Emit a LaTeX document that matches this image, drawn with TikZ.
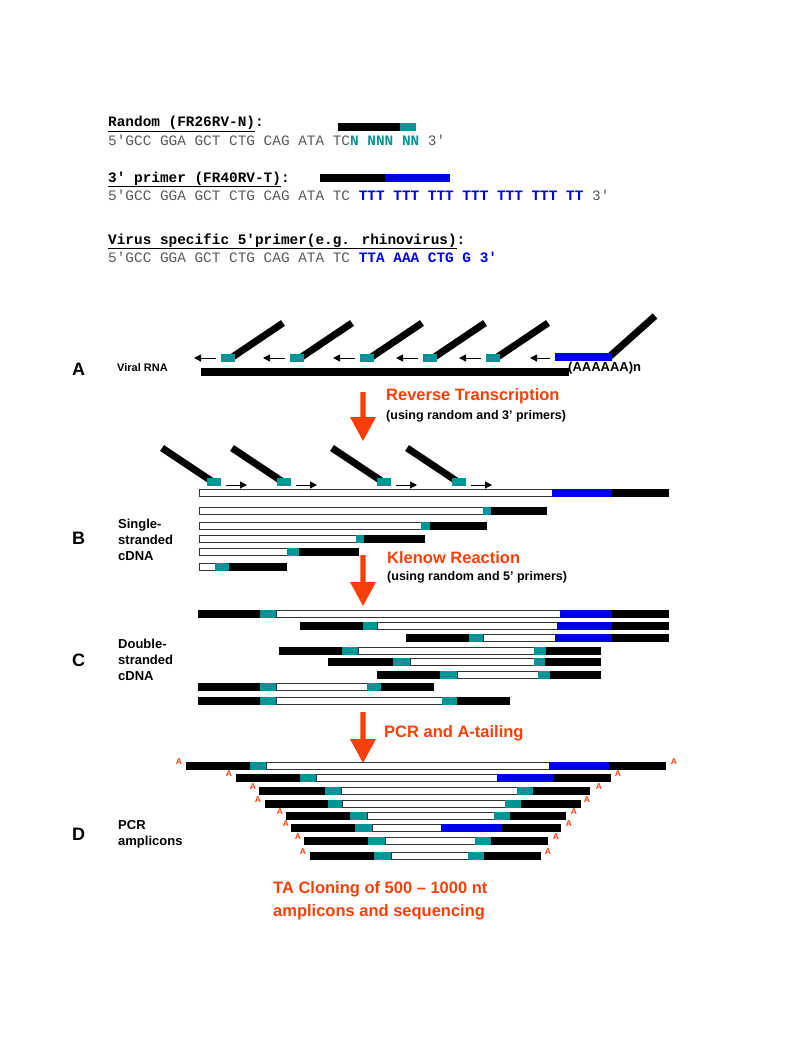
\documentclass[tikz,border=0pt]{standalone}
\usepackage{fontspec}
\setmainfont{Liberation Sans}
\newfontfamily\cour{Liberation Mono}
\usetikzlibrary{arrows.meta}
\definecolor{tl}{RGB}{0,150,150}
\definecolor{bl}{RGB}{0,0,230}
\definecolor{rd}{RGB}{250,64,10}
\definecolor{gy}{RGB}{90,90,90}
\newcommand\sgm[4]{\fill[#4] (#1,#3-3.8) rectangle (#2,#3+3.8);}
\newcommand\wsg[3]{\filldraw[fill=white,draw=black!80,line width=0.8] (#1,#3-3.4) rectangle (#2,#3+3.4);}
\newcommand\redarr[3]{\fill[rd] (#1-2.6,#2) -- (#1+2.6,#2) -- (#1+2.6,#3-24) -- (#1+13,#3-24) -- (#1,#3) -- (#1-13,#3-24) -- (#1-2.6,#3-24) -- cycle;}
\tikzset{
 mono/.style={font=\cour\fontsize{14.4}{16}\selectfont, anchor=base west, inner sep=0},
 monob/.style={mono, font=\cour\bfseries\fontsize{14.4}{16}\selectfont},
 lab/.style={font=\bfseries\fontsize{18}{20}\selectfont, anchor=west, inner sep=0},
 sub/.style={font=\bfseries\fontsize{13}{16}\selectfont, anchor=west, align=left, inner sep=0},
 step1/.style={font=\bfseries\fontsize{16.5}{18}\selectfont, text=rd, anchor=west, inner sep=0},
 step2/.style={font=\bfseries\fontsize{12.5}{14}\selectfont, anchor=west, inner sep=0},
 aa/.style={font=\bfseries\fontsize{8.5}{9}\selectfont, text=rd, inner sep=0},
 prim/.style={line width=7},
 sarr/.style={line width=1, -{Triangle[length=7,width=7]}},
}
\begin{document}
\begin{tikzpicture}[x=1pt,y=-1pt]
\useasboundingbox[fill=white] (0,0) rectangle (785,1046);
% top sequences
\node[monob] (t1) at (108,127) {\underline{Random (FR26RV-N)}:};
\node[mono,text=gy] (s1) at (108,145) {5'GCC GGA GCT CTG CAG ATA TC\textcolor{tl}{\bfseries N NNN NN} 3'};
\sgm{338}{400}{127}{black}\sgm{400}{416}{127}{tl}
\node[monob] (t2) at (108,182) {\underline{3' primer (FR40RV-T)}:};
\node[mono,text=gy] (s2) at (108,200) {5'GCC GGA GCT CTG CAG ATA TC \textcolor{bl}{\bfseries TTT TTT TTT TTT TTT TTT TT} 3'};
\sgm{320}{385}{178}{black}\sgm{385}{450}{178}{bl}
\node[monob] (t3) at (108,244) {\underline{Virus specific 5'primer(e.g. rhinovirus)}:};
\node[mono,text=gy] (s3) at (108,262) {5'GCC GGA GCT CTG CAG ATA TC \textcolor{bl}{\bfseries TTA AAA CTG G 3'}};
% Panel A
\node[lab] (A) at (72,369) {A};
\node[sub, font=\bfseries\fontsize{11}{13}\selectfont] (vr) at (117,368) {Viral RNA};
\sgm{201}{569}{372}{black}
\node[font=\bfseries\fontsize{13}{14}\selectfont, anchor=west, inner sep=0] (poly) at (568,368) {(AAAAAA)n};
\foreach \t in {221,290,360,423,486}{
 \draw[prim] (\t+10,358) -- (\t+62,323);
 \sgm{\t}{\t+14}{358}{tl}
 \draw[sarr] (\t-5,358) -- (\t-27,358);
}
\draw[prim] (608,358) -- (655,316);
\sgm{555}{612}{357}{bl}
\draw[sarr] (550,358) -- (530,358);
\redarr{363}{392}{441}
\node[step1] (rt) at (386,396) {Reverse Transcription};
\node[step2] (rt2) at (386,416) {(using random and 3' primers)};
% Panel B
\foreach \t in {207,277,377,452}{
 \draw[prim] (\t+6,482) -- (\t-45,448);
 \sgm{\t}{\t+14}{482}{tl}
 \draw[sarr] (\t+19,485) -- (\t+40,485);
}
\wsg{199}{552}{493}\sgm{552}{612}{493}{bl}\sgm{612}{669}{493}{black}
\wsg{199}{483}{511}\sgm{483}{491}{511}{tl}\sgm{491}{547}{511}{black}
\wsg{199}{421}{526}\sgm{421}{430}{526}{tl}\sgm{430}{487}{526}{black}
\wsg{199}{356}{539}\sgm{356}{364}{539}{tl}\sgm{364}{425}{539}{black}
\wsg{199}{287}{552}\sgm{287}{299}{552}{tl}\sgm{299}{359}{552}{black}
\wsg{199}{215}{567}\sgm{215}{229}{567}{tl}\sgm{229}{287}{567}{black}
\node[lab] (B) at (72,538) {B};
\node[sub] (Bt) at (118,540) {Single-\\stranded\\cDNA};
\redarr{363}{555}{606}
\node[step1] (kl) at (387,558) {Klenow Reaction};
\node[step2] (kl2) at (387,577) {(using random and 5' primers)};
% Panel C
\sgm{198}{260}{614}{black}\sgm{260}{276}{614}{tl}\wsg{276}{560}{614}\sgm{560}{612}{614}{bl}\sgm{612}{669}{614}{black}
\sgm{300}{363}{626}{black}\sgm{363}{377}{626}{tl}\wsg{377}{557}{626}\sgm{557}{612}{626}{bl}\sgm{612}{669}{626}{black}
\sgm{406}{469}{638}{black}\sgm{469}{483}{638}{tl}\wsg{483}{555}{638}\sgm{555}{612}{638}{bl}\sgm{612}{669}{638}{black}
\sgm{279}{342}{651}{black}\sgm{342}{358}{651}{tl}\wsg{358}{534}{651}\sgm{534}{546}{651}{tl}\sgm{546}{601}{651}{black}
\sgm{328}{393}{662}{black}\sgm{393}{410}{662}{tl}\wsg{410}{534}{662}\sgm{534}{545}{662}{tl}\sgm{545}{601}{662}{black}
\sgm{377}{440}{675}{black}\sgm{440}{457}{675}{tl}\wsg{457}{538}{675}\sgm{538}{550}{675}{tl}\sgm{550}{601}{675}{black}
\sgm{198}{260}{687}{black}\sgm{260}{276}{687}{tl}\wsg{276}{367}{687}\sgm{367}{381}{687}{tl}\sgm{381}{434}{687}{black}
\sgm{198}{260}{701}{black}\sgm{260}{276}{701}{tl}\wsg{276}{442}{701}\sgm{442}{457}{701}{tl}\sgm{457}{510}{701}{black}
\node[lab] (C) at (72,660) {C};
\node[sub] (Ct) at (118,660) {Double-\\stranded\\cDNA};
\redarr{363}{712}{763}
\node[step1] (pcr) at (384,733) {PCR and A-tailing};
% Panel D
\newcommand\arow[3]{\node[aa] at (#1,#3-4) {A};\node[aa] at (#2,#3-4) {A};}
\sgm{186}{250}{766}{black}\sgm{250}{266}{766}{tl}\wsg{266}{549}{766}\sgm{549}{609}{766}{bl}\sgm{609}{666}{766}{black}\arow{179}{674}{766}
\sgm{236}{300}{778}{black}\sgm{300}{316}{778}{tl}\wsg{316}{497}{778}\sgm{497}{554}{778}{bl}\sgm{554}{611}{778}{black}\arow{229}{618}{778}
\sgm{259}{325}{791}{black}\sgm{325}{341}{791}{tl}\wsg{341}{517}{791}\sgm{517}{533}{791}{tl}\sgm{533}{590}{791}{black}\arow{253}{599}{791}
\sgm{265}{328}{804}{black}\sgm{328}{342}{804}{tl}\wsg{342}{505}{804}\sgm{505}{521}{804}{tl}\sgm{521}{581}{804}{black}\arow{258}{587}{804}
\sgm{286}{350}{816}{black}\sgm{350}{367}{816}{tl}\wsg{367}{494}{816}\sgm{494}{510}{816}{tl}\sgm{510}{566}{816}{black}\arow{280}{574}{816}
\sgm{291}{355}{828}{black}\sgm{355}{372}{828}{tl}\wsg{372}{441}{828}\sgm{441}{502}{828}{bl}\sgm{502}{561}{828}{black}\arow{286}{569}{828}
\sgm{304}{368}{841}{black}\sgm{368}{385}{841}{tl}\wsg{385}{475}{841}\sgm{475}{491}{841}{tl}\sgm{491}{548}{841}{black}\arow{298}{556}{841}
\sgm{310}{374}{856}{black}\sgm{374}{391}{856}{tl}\wsg{391}{468}{856}\sgm{468}{484}{856}{tl}\sgm{484}{541}{856}{black}\arow{303}{548}{856}
\node[lab] (D) at (72,834) {D};
\node[sub] (Dt) at (118,834) {PCR\\amplicons};
\node[step1, align=left, font=\bfseries\fontsize{16.5}{23}\selectfont] (ta) at (273,901) {TA Cloning of 500 – 1000 nt\\amplicons and sequencing};
\end{tikzpicture}
\end{document}
